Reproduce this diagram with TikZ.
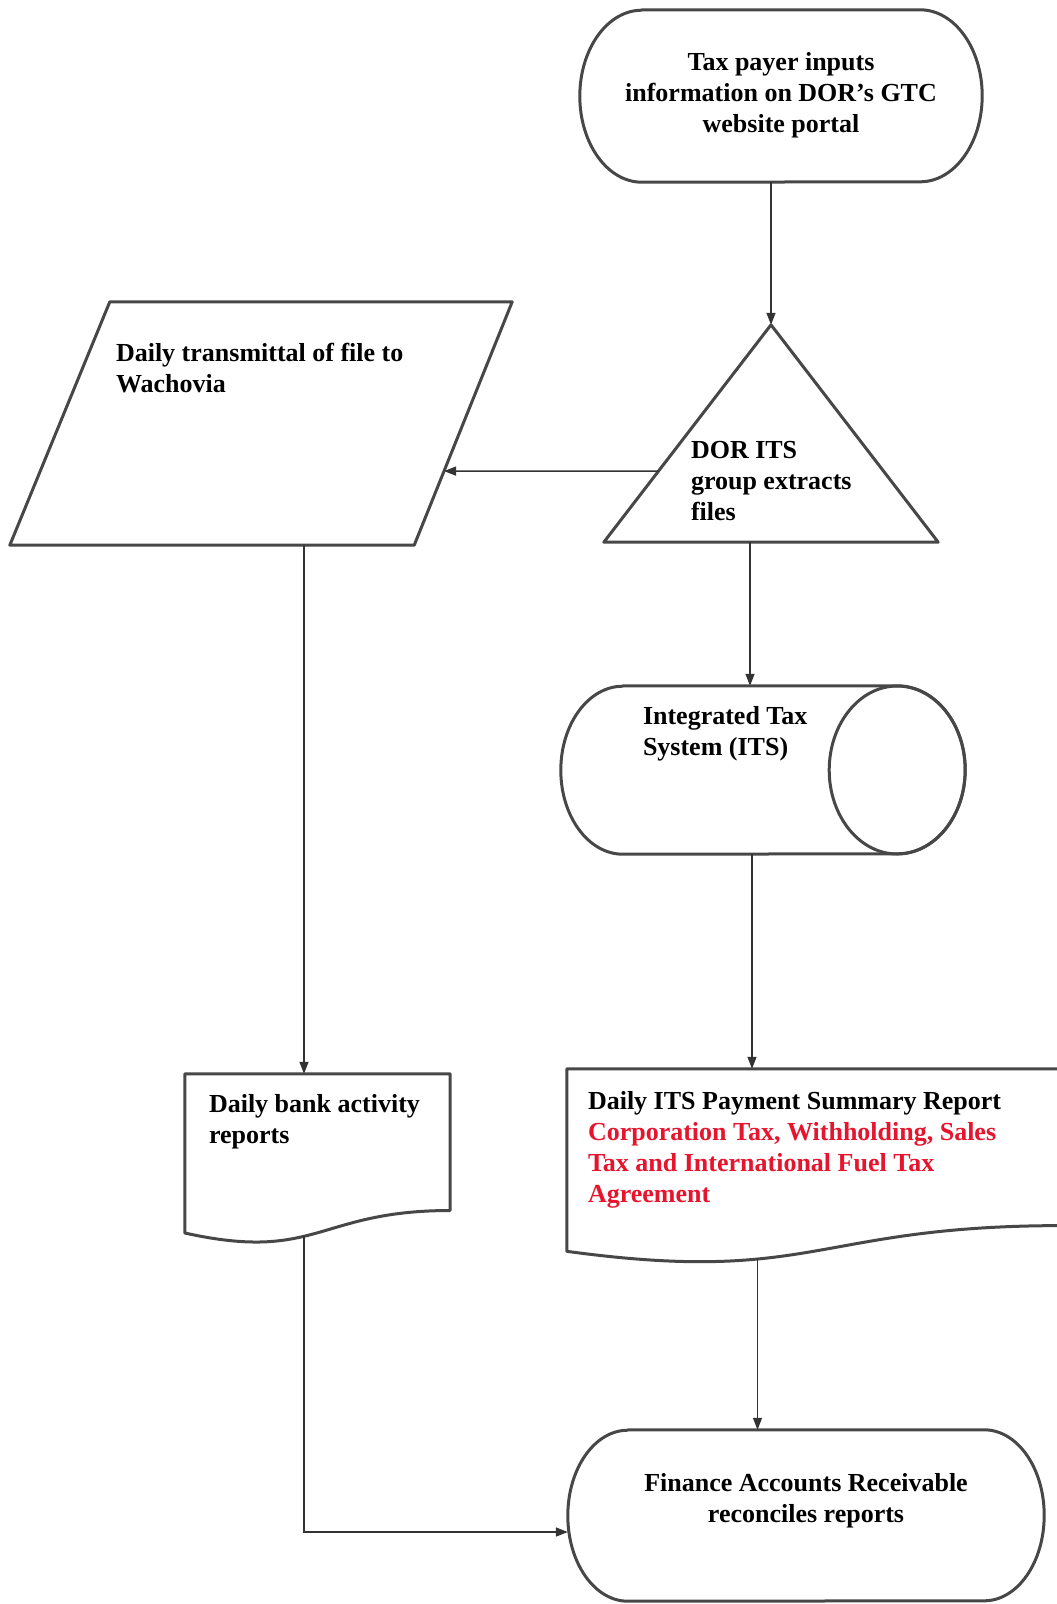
\documentclass[tikz,border=0pt]{standalone}
\usepackage{fontspec}
\setmainfont{Liberation Serif}
\usetikzlibrary{arrows.meta,positioning,calc}
\definecolor{alertred}{RGB}{230,20,45}

\begin{document}
\begin{tikzpicture}[
  x=1pt, y=-1pt,
  >={Triangle[length=12pt, width=9pt]},
  frame/.style={rectangle, draw=none, inner sep=0pt},
  outline/.style={draw=black!72, line width=3pt, line join=round},
  link/.style={->, line width=1.4pt, draw=black!80},
  txt/.style={inner sep=0pt, align=left, font=\fontsize{26}{31}\selectfont\bfseries},
]
\useasboundingbox[fill=white] (0,0) rectangle (1057,1604);

% frames of the shapes
\node[frame, minimum width=402pt, minimum height=172pt] (tax)  at (781,96)      {};
\node[frame, minimum width=502pt, minimum height=243pt] (wach) at (261,423.5)   {};
\node[frame, minimum width=334pt, minimum height=217pt] (ext)  at (771,433.5)   {};
\node[frame, minimum width=404pt, minimum height=168pt] (its)  at (763,770)     {};
\node[frame, minimum width=265pt, minimum height=170pt] (bank) at (317.5,1159)  {};
\node[frame, minimum width=495pt, minimum height=195pt] (pay)  at (814.5,1166.5){};
\node[frame, minimum width=476pt, minimum height=171pt] (fin)  at (806,1515.5)  {};

% outlines
\draw[outline] ([xshift=62pt]tax.north west) -- ([xshift=-62pt]tax.north east)
  arc[start angle=90, end angle=-90, x radius=62pt, y radius=86pt]
  -- ([xshift=62pt]tax.south west)
  arc[start angle=270, end angle=90, x radius=62pt, y radius=86pt] -- cycle;
\draw[outline] ([xshift=100pt]wach.north west) -- (wach.north east)
  -- ([xshift=-98pt]wach.south east) -- (wach.south west) -- cycle;
\draw[outline] (ext.north) -- (ext.south east) -- (ext.south west) -- cycle;
\draw[outline] ([xshift=62pt]its.north west) -- ([xshift=-68pt]its.north east)
  arc[start angle=90, end angle=-90, x radius=68pt, y radius=84pt]
  -- ([xshift=62pt]its.south west)
  arc[start angle=270, end angle=90, x radius=62pt, y radius=84pt] -- cycle;
\draw[outline] ([xshift=-68pt]its.east) ellipse [x radius=68pt, y radius=84pt];
\draw[outline] (bank.north west) -- (bank.north east) -- ([yshift=33.7pt]bank.south east)
  .. controls ([yshift=33.7pt]bank.south) and ([yshift=-18.2pt]bank.south) .. ([yshift=11.2pt]bank.south west) -- cycle;
\draw[outline] (pay.north west) -- (pay.north east) -- ([yshift=38.6pt]pay.south east)
  .. controls ([yshift=38.6pt]pay.south) and ([yshift=-20.9pt]pay.south) .. ([yshift=12.9pt]pay.south west) -- cycle;
\draw[outline] ([xshift=60pt]fin.north west) -- ([xshift=-60pt]fin.north east)
  arc[start angle=90, end angle=-90, x radius=60pt, y radius=85.5pt]
  -- ([xshift=60pt]fin.south west)
  arc[start angle=270, end angle=90, x radius=60pt, y radius=85.5pt] -- cycle;

% texts
\node[txt, align=center] (taxtxt) at ([yshift=1pt]tax.center) {Tax payer inputs\\information on DOR’s GTC\\website portal};
\node[txt, below right=41pt and 106pt of wach.north west] (wachtxt) {Daily transmittal of file to\\Wachovia};
\node[txt, below right=116pt and 87pt of ext.north west] (exttxt) {DOR ITS\\group extracts\\files};
\node[txt, below right=20pt and 82pt of its.north west] (itstxt) {Integrated Tax\\System (ITS)};
\node[txt, below right=20pt and 24pt of bank.north west] (banktxt) {Daily bank activity\\reports};
\node[txt, below right=22pt and 21pt of pay.north west] (paytxt) {Daily ITS Payment Summary Report\\
  \textcolor{alertred}{Corporation Tax, Withholding, Sales}\\
  \textcolor{alertred}{Tax and International Fuel Tax}\\
  \textcolor{alertred}{Agreement}};
\node[txt, align=center] (fintxt) at ([yshift=14.5pt]fin.center) {Finance Accounts Receivable\\reconciles reports};

% connectors
\coordinate (bankin)  at ([xshift=-13.5pt]bank.north);
\coordinate (bankout) at ([xshift=-13.5pt, yshift=8pt]bank.south);
\coordinate (payout)  at ([xshift=-57pt, yshift=6pt]pay.south);
\draw[link] (tax.south -| ext.north) -- (ext.north);
\draw[link] ($(ext.south west)!0.327!(ext.north)$) -- ($([xshift=-98pt]wach.south east)!0.3045!(wach.north east)$);
\draw[link] (wach.south -| bankin) -- (bankin);
\draw[link] ([xshift=-21pt]ext.south) -- ([xshift=-21pt]ext.south |- its.north);
\draw[link] ([xshift=-11pt]its.south) -- ([xshift=-11pt]its.south |- pay.north);
\draw[link] (payout) -- (payout |- fin.north);
\draw[link] (bankout) |- ([yshift=-16.5pt]fin.west);

\end{tikzpicture}
\end{document}
